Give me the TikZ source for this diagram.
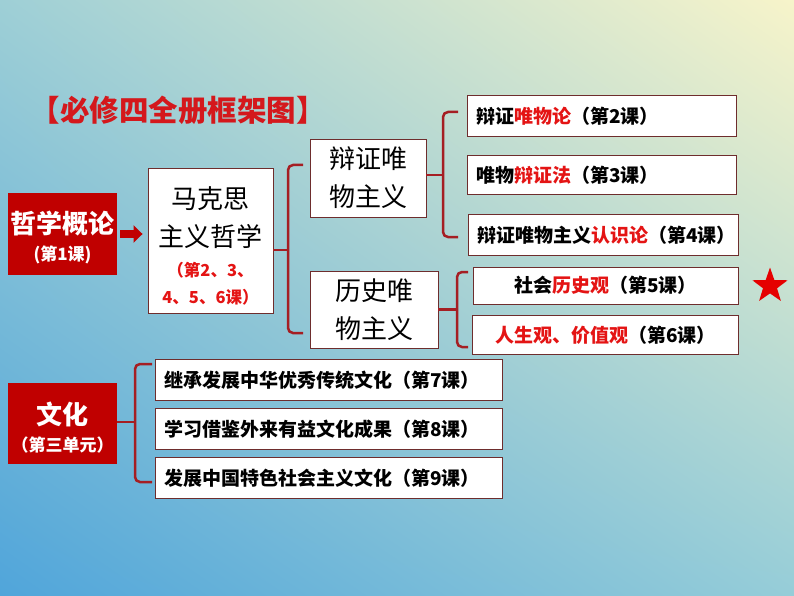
\documentclass[tikz,border=0pt]{standalone}
\usepackage{fontspec}
\setmainfont{Noto Sans CJK SC}
\usetikzlibrary{positioning,arrows.meta,calc,shapes.geometric,shadings}
\definecolor{BgTL}{RGB}{158,207,214}
\definecolor{BgTR}{RGB}{247,244,202}
\definecolor{BgBL}{RGB}{80,165,218}
\definecolor{BgBR}{RGB}{150,205,216}
\definecolor{DeepRed}{RGB}{192,0,0}
\definecolor{BraceRed}{RGB}{165,30,35}
\definecolor{BoxEdge}{RGB}{110,45,45}
\definecolor{TextRed}{RGB}{228,20,20}
\definecolor{TitleRed}{RGB}{212,24,28}
\tikzset{
  redbox/.style={fill=DeepRed,text=white,minimum width=109pt,minimum height=82pt,
    align=center,inner sep=0pt,font=\bfseries},
  whitebox/.style={draw=BoxEdge,fill=white,line width=0.9pt,align=center,inner sep=0pt},
  lessonbox/.style={whitebox,minimum height=41pt,font=\bfseries\fontsize{19}{22}\selectfont},
  leftlesson/.style={lessonbox,inner xsep=9pt,align=left},
  brace/.style={draw=BraceRed,line width=2.5pt,rounded corners=5pt},
  blockarrow/.style={-{Triangle[length=9pt,width=17pt]},line width=8pt,draw=DeepRed}
}
\newcommand\bigtext{\fontsize{26}{38}\selectfont}
\newcommand\smalltext{\bfseries\fontsize{16.5}{27}\selectfont\color{TextRed}}
\begin{document}
\begin{tikzpicture}[x=1pt,y=-1pt]
  \shade[upper left=BgTL,upper right=BgTR,lower left=BgBL,lower right=BgBR]
    (0,0) rectangle (794,596);
  \useasboundingbox (0,0) rectangle (794,596);

  \node[text=TitleRed,font=\bfseries\fontsize{29.5}{32}\selectfont] (title) at (178,110) {【必修四全册框架图】};

  % philosophy
  \node[redbox] (intro) at (62.5,234) {\fontsize{26}{30}\selectfont\rule{0pt}{30pt}哲学概论\\[9pt]
    \fontsize{17}{20}\selectfont (第1课)};
  \node[whitebox,minimum width=125pt,minimum height=145pt,font=\bigtext] (marx) at (210.5,240.5) {
    \rule{0pt}{32pt}马克思\\主义哲学\\[-8pt]
    \smalltext （第2、3、\\[-11pt]\smalltext 4、5、6课）};
  \node[whitebox,minimum width=116pt,minimum height=78pt,font=\bigtext]
    (dialec) at (368,178) {辩证唯\\物主义};
  \node[whitebox,minimum width=128pt,minimum height=77pt,font=\bigtext]
    (histo) at (374,309.5) {历史唯\\物主义};

  \node[leftlesson,text width=251pt] (l2) at (601.5,116) {辩证\textcolor{TextRed}{唯物论}（第2课）};
  \node[leftlesson,text width=251pt,minimum height=39pt,below=18pt of l2] (l3) {唯物\textcolor{TextRed}{辩证法}（第3课）};
  \node[leftlesson,text width=252pt,below=19pt of l3,xshift=1.5pt] (l4) {辩证唯物主义\textcolor{TextRed}{认识论}（第4课）};
  \node[lessonbox,minimum width=265pt,minimum height=37pt] (l5) at (605.5,285.5) {社会\textcolor{TextRed}{历史观}（第5课）};
  \node[lessonbox,minimum width=266pt,minimum height=39pt,below=11pt of l5] (l6) {\textcolor{TextRed}{人生观、价值观}（第6课）};
  \node[star,star points=5,star point ratio=2.5,fill=red!90!black,minimum size=37pt,inner sep=0pt]
    (star) at (770,286) {};

  \draw[blockarrow,shorten <=3pt,shorten >=5pt] (intro.east) -- (intro.east -| marx.west);

  % braces
  \coordinate (marxtop) at (303,165);
  \coordinate (marxmid) at (288,250);
  \coordinate (marxbot) at (303,333);
  \draw[brace] (marxtop) -| (marxmid) |- (marxbot);
  \draw[brace] (marx.east |- marxmid) -- (marxmid);

  \coordinate (dialtop) at (458,112);
  \coordinate (dialmid) at (443,175);
  \coordinate (dialbot) at (458,237);
  \draw[brace] (dialtop) -| (dialmid) |- (dialbot);
  \draw[brace] (dialec.east |- dialmid) -- (dialmid);

  \coordinate (histtop) at (468,272);
  \coordinate (histmid) at (457,309.5);
  \coordinate (histbot) at (468,347);
  \draw[brace] (histtop) -| (histmid) |- (histbot);
  \draw[brace] (histo.east |- histmid) -- (histmid);

  % culture
  \node[redbox,minimum height=81pt] (culture) at (62.5,423.5) {\fontsize{26}{30}\selectfont\rule{0pt}{30pt}文化\\[9pt]
    \fontsize{17}{20}\selectfont （第三单元）};
  \node[leftlesson,text width=329pt] (l7) at (328.5,380) {继承发展中华优秀传统文化（第7课）};
  \node[leftlesson,text width=329pt,below=7pt of l7] (l8) {学习借鉴外来有益文化成果（第8课）};
  \node[leftlesson,text width=329pt,below=7pt of l8] (l9) {发展中国特色社会主义文化（第9课）};

  \coordinate (culttop) at (152,364);
  \coordinate (cultmid) at (135,422);
  \coordinate (cultbot) at (152,482);
  \draw[brace] (culttop) -| (cultmid) |- (cultbot);
  \draw[brace] (culture.east |- cultmid) -- (cultmid);
\end{tikzpicture}
\end{document}
